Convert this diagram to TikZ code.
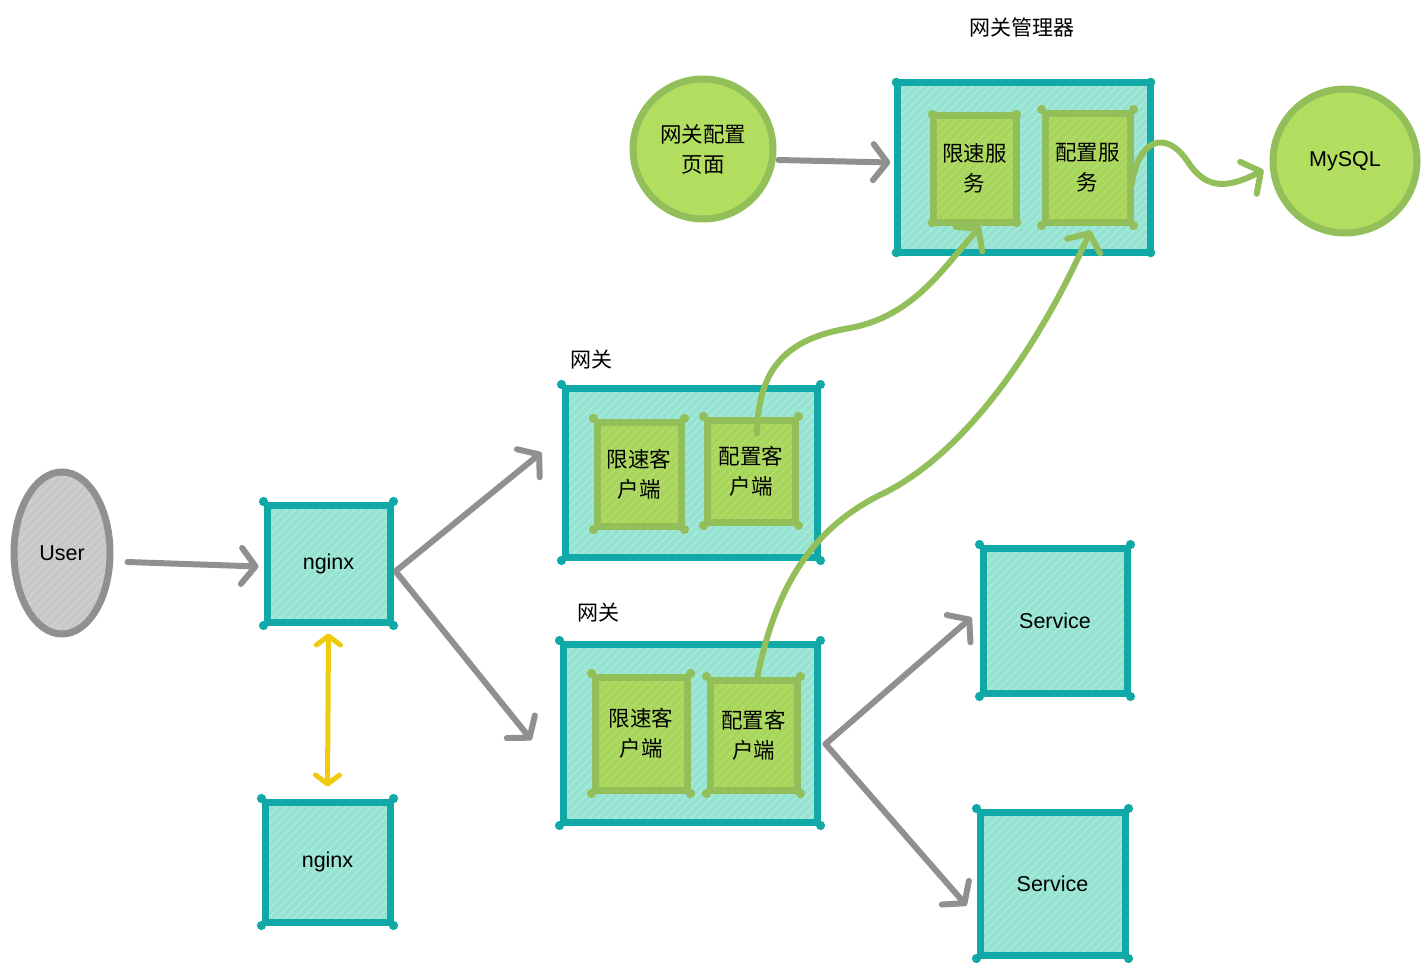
\documentclass[tikz,border=0pt]{standalone}
\usepackage{fontspec}
\setmainfont{Liberation Sans}
\newfontfamily\cjk{Noto Sans CJK SC}
\usetikzlibrary{arrows.meta,patterns.meta,shapes.geometric}
\definecolor{tealb}{HTML}{10A9A8}
\definecolor{tealf}{HTML}{96E3D2}
\definecolor{tealh}{HTML}{A9EBDD}
\definecolor{greenb}{HTML}{93BF5B}
\definecolor{greenf}{HTML}{A8D65C}
\definecolor{greenh}{HTML}{B4DD6C}
\definecolor{circf}{HTML}{B2DE5E}
\definecolor{grayb}{HTML}{909090}
\definecolor{grayf}{HTML}{C8C8C8}
\definecolor{grayh}{HTML}{D2D2D2}
\definecolor{yel}{HTML}{EFCB0E}
\newcommand\cornerdots[2]{\foreach \a in {north west,north east,south west,south east} \fill[#2] (#1.\a) circle (4.6);}
\begin{document}
\begin{tikzpicture}[x=1pt,y=-1pt,
  txt/.style={font=\fontsize{21.5}{30}\selectfont, text=black, align=center},
  cjktxt/.style={font=\cjk\fontsize{21.5}{30}\selectfont},
  tbox/.style={txt, draw=tealb, line width=7, preaction={fill=tealf},
     pattern={Lines[angle=45,distance=6pt,line width=1.4pt]}, pattern color=tealh,
     inner sep=0, rectangle},
  gbox/.style={txt, cjktxt, draw=greenb, line width=7, preaction={fill=greenf},
     pattern={Lines[angle=45,distance=6pt,line width=1.2pt]}, pattern color=greenh,
     inner sep=0, rectangle},
  gcirc/.style={txt, draw=greenb, line width=7, preaction={fill=circf},
     pattern={Lines[angle=90,distance=5pt,line width=1pt]}, pattern color=greenh,
     circle, inner sep=0},
  garrow/.style={draw=grayb, line width=6, line cap=round,
     -{Straight Barb[length=14,width=36,round]}},
  grarrow/.style={draw=greenb, line width=6, line cap=round,
     -{Straight Barb[length=14,width=36,round]}},
  yarrow/.style={draw=yel, line width=5, line cap=round,
     {Straight Barb[length=9,width=24,round]}-{Straight Barb[length=9,width=24,round]}},
  lbl/.style={font=\cjk\fontsize{21}{24}\selectfont, text=black},
]
\useasboundingbox (0,0) rectangle (1428,966);

% labels
\node[lbl] (tmgr) at (1022,27) {网关管理器};
\node[lbl] (tgw1) at (591,360) {网关};
\node[lbl] (tgw2) at (598,613) {网关};

% manager
\node[tbox, minimum width=253, minimum height=169] (mgr) at (1023.5,167.5) {};
\cornerdots{mgr}{tealb}
\node[gbox, minimum width=83, minimum height=107] (rls) at (974.5,168.5) {限速服\\务};
\cornerdots{rls}{greenb}
\node[gbox, minimum width=85, minimum height=109] (cfs) at (1087.5,167.5) {配置服\\务};
\cornerdots{cfs}{greenb}

% circles
\node[gcirc, cjktxt, minimum size=140] (page) at (703,149) {网关配置\\页面};
\node[gcirc, minimum size=144] (mysql) at (1345,161) {MySQL};

% gateway 1
\node[tbox, minimum width=252, minimum height=169] (gw1) at (691,472.5) {};
\cornerdots{gw1}{tealb}
\node[gbox, minimum width=84, minimum height=104] (rlc1) at (639,474) {限速客\\户端};
\cornerdots{rlc1}{greenb}
\node[gbox, minimum width=88, minimum height=102] (cfc1) at (751,471) {配置客\\户端};
\cornerdots{cfc1}{greenb}

% gateway 2
\node[tbox, minimum width=254, minimum height=178] (gw2) at (690,733) {};
\cornerdots{gw2}{tealb}
\node[gbox, minimum width=92, minimum height=113] (rlc2) at (641,733.5) {限速客\\户端};
\cornerdots{rlc2}{greenb}
\node[gbox, minimum width=87, minimum height=110] (cfc2) at (753.5,735) {配置客\\户端};
\cornerdots{cfc2}{greenb}

% user
\node[txt, ellipse, draw=grayb, line width=7, preaction={fill=grayf},
  pattern={Lines[angle=45,distance=6pt,line width=1.2pt]}, pattern color=grayh,
  minimum width=96, minimum height=162, inner sep=0] (user) at (62,553) {User};

% nginx
\node[tbox, minimum width=123, minimum height=117] (ng1) at (328.5,563.5) {nginx};
\cornerdots{ng1}{tealb}
\node[tbox, minimum width=125, minimum height=120] (ng2) at (327.5,862) {nginx};
\cornerdots{ng2}{tealb}

% services
\node[tbox, minimum width=144, minimum height=145] (sv1) at (1055,620.5) {Service};
\cornerdots{sv1}{tealb}
\node[tbox, minimum width=145, minimum height=143] (sv2) at (1052.5,883.5) {Service};
\cornerdots{sv2}{tealb}

% gray arrows
\draw[garrow] ([shift={(14,9)}]user.east) -- ([shift={(-5,3)}]ng1.west);
\draw[garrow] ([shift={(3,7)}]ng1.east) -- ([shift={(-20,-20)}]gw1.west);
\draw[garrow] ([shift={(3,9)}]ng1.east) -- ([shift={(-28,7)}]gw2.west);
\draw[garrow] ([shift={(5,11)}]page.east) -- ([shift={(-6,-5)}]mgr.west);
\draw[garrow] ([shift={(5,11)}]gw2.east) -- ([shift={(-8,-3)}]sv1.west);
\draw[garrow] ([shift={(5,11)}]gw2.east) -- ([shift={(-10,22)}]sv2.west);

% yellow
\draw[yarrow] ([shift={(0,8)}]ng1.south) -- ([shift={(0,-12)}]ng2.north);

% green curves
\draw[grarrow] ([shift={(-2,18)}]cfs.east) .. controls (1138,140) and (1165,128) .. (1188,162)
   .. controls (1205,188) and (1225,190) .. ([shift={(-6,9)}]mysql.west);
\draw[grarrow] ([shift={(6,17)}]cfc1.north) .. controls (758,365) and (790,338) .. (850,328)
   .. controls (915,316) and (945,265) .. ([shift={(6,4)}]rls.south);
\draw[grarrow] ([shift={(4,0)}]cfc2.north) .. controls (775,590) and (810,530) .. (880,495)
   .. controls (965,455) and (1040,345) .. ([shift={(3,5)}]cfs.south);
\end{tikzpicture}
\end{document}
